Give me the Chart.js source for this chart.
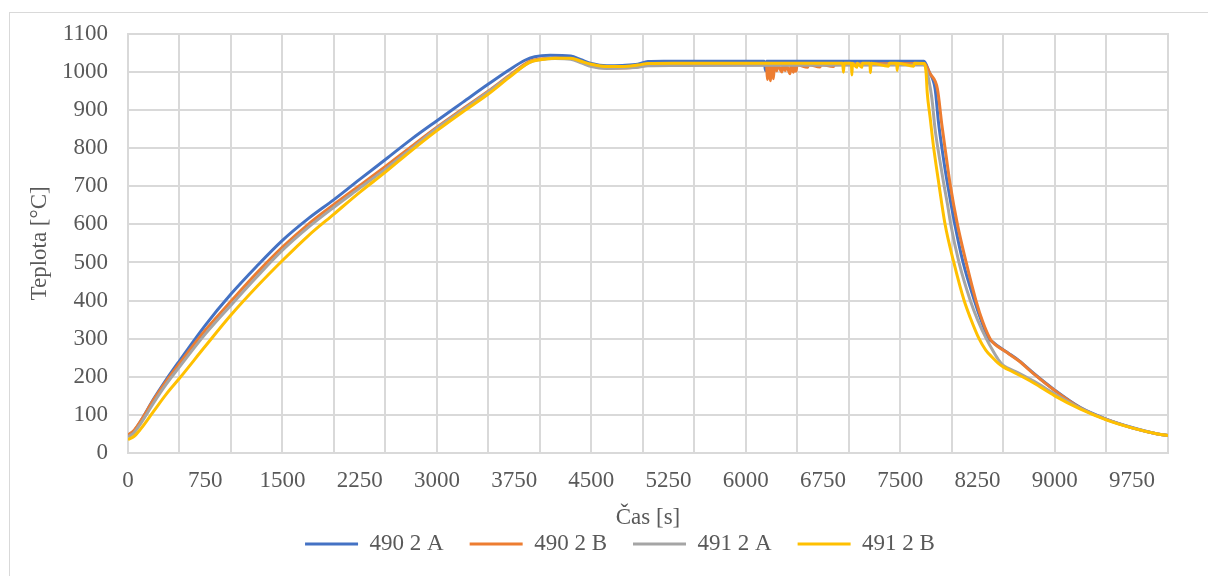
<!DOCTYPE html>
<html>
<head>
<meta charset="utf-8">
<script src="https://cdn.jsdelivr.net/npm/chart.js@4.4.1/dist/chart.umd.min.js"></script>
<style>
  html, body { margin: 0; padding: 0; background: #ffffff; }
  canvas { display: block; }
</style>
</head>
<body>
<canvas id="c" width="1208" height="576" style="width:1208px;height:576px"></canvas>
<script>
// ---------------- data ----------------
const seriesNames = ['490 2 A', '490 2 B', '491 2 A', '491 2 B'];
const seriesColors = ['#4472C4', '#ED7D31', '#A5A5A5', '#FFC000'];

// 490 2 A
const time490A = [0,60,120,250,370,500,750,1000,1250,1500,1750,2000,2250,2500,2750,3000,3250,3500,3700,3850,3950,4100,4300,4400,4500,4650,4800,4950,5050,5200,6180,6190,6200,7730,7780,7838,7871,7910,7951,8030,8110,8220,8290,8360,8400,8450,8550,8650,8800,9000,9250,9500,9750,10000,10100];
const temp490A = [45,58,82,142,192,242,335,417,490,558,615,665,718,770,823,872,920,968,1005,1030,1040,1044,1042,1032,1022,1016,1017,1020,1027,1028,1028,1003,1028,1028,1000,956,868,790,718,600,500,400,345,300,291,280,262,243,208,165,119,89,67,50,46];

// 490 2 B
const time490B = [0,60,120,250,370,500,750,1000,1250,1500,1750,2000,2250,2500,2750,3000,3250,3500,3700,3900,4000,4150,4300,4400,4500,4650,4800,4950,5050,5300,6200,6210,6220,6238,6248,6268,6278,6300,6310,6350,6360,6383,6393,6430,6440,6463,6473,6488,6498,6600,6610,6720,6730,6850,6860,7730,7790,7861,7903,7945,7984,8055,8140,8235,8300,8372,8400,8450,8550,8650,8800,9000,9250,9500,9750,10000,10100];
const temp490B = [47,60,83,140,188,235,322,398,472,540,600,652,702,752,804,855,903,950,990,1028,1034,1036,1035,1026,1016,1010,1010,1013,1018,1019,1019,980,1019,977,1019,982,1019,1003,1019,1000,1019,1004,1019,995,1019,999,1019,1002,1019,1012,1019,1013,1019,1014,1019,1022,995,955,863,780,706,600,500,400,345,300,290,279,261,242,207,164,118,88,66,50,46];

// 491 2 A
const time491A = [0,60,120,250,370,500,750,1000,1250,1500,1750,2000,2250,2500,2750,3000,3250,3500,3700,3900,4000,4150,4300,4400,4500,4650,4800,4950,5050,5300,7725,7757,7806,7838,7880,7919,7960,7990,8070,8180,8250,8335,8400,8450,8500,8550,8650,8800,9000,9250,9500,9750,10000,10100];
const temp491A = [42,54,76,132,180,226,312,388,462,532,592,645,695,745,798,852,900,948,988,1025,1032,1035,1033,1024,1014,1009,1010,1012,1016,1017,1018,1002,932,850,775,712,650,600,500,400,350,300,268,246,230,222,210,188,155,117,88,66,50,46];

// 491 2 B
const time491B = [0,60,120,250,370,500,750,1000,1250,1500,1750,2000,2250,2500,2750,3000,3250,3500,3700,3900,4000,4150,4300,4400,4500,4650,4800,4950,5050,5300,6940,6948,6956,7025,7030,7036,7077,7083,7126,7132,7205,7210,7216,7385,7392,7465,7470,7476,7630,7636,7735,7750,7762,7790,7820,7870,7935,8020,8120,8180,8265,8330,8390,8450,8500,8600,8700,8800,9000,9250,9500,9750,10000,10100];
const temp491B = [35,44,62,110,154,196,280,362,436,505,570,627,684,737,793,846,895,942,985,1025,1032,1036,1036,1028,1020,1014,1014,1018,1022,1023,1023,999,1023,1023,992,1023,1012,1023,1012,1023,1023,998,1023,1015,1023,1023,1004,1023,1015,1023,1022,1000,945,880,810,715,600,500,400,355,300,270,252,236,226,212,198,183,150,115,87,66,50,46];

const seriesTimes = [time490A, time490B, time491A, time491B];
const seriesTemps = [temp490A, temp490B, temp491A, temp491B];

// axes
const xMin = 0, xMax = 10100, xStep = 250, xGridEvery = 500, xLabelEvery = 750;
const yMin = 0, yMax = 1100, yStep = 100;
const xTitle = 'Čas [s]';
const yTitle = 'Teplota [°C]';

// ---------------- chart ----------------
const FONT = "'Liberation Serif', 'Times New Roman', Times, serif";
const TXT = '#595959';
const GRID = '#d9d9d9';

const frame = {
  id: 'frame',
  beforeDraw(chart) {
    const {ctx, width, height} = chart;
    ctx.save();
    ctx.fillStyle = '#ffffff';
    ctx.fillRect(0, 0, width, height);
    ctx.strokeStyle = GRID;
    ctx.lineWidth = 1;
    ctx.strokeRect(9.5, 12.5, width, height);
    ctx.restore();
  }
};

const drawOrder = [3, 2, 1, 0]; // later series drawn on top, as in the original

const datasets = seriesNames.map((name, i) => ({
  label: name,
  data: seriesTimes[i].map((t, k) => ({x: t, y: seriesTemps[i][k]})),
  borderColor: seriesColors[i],
  backgroundColor: seriesColors[i],
  borderWidth: 3,
  pointRadius: 0,
  fill: false,
  cubicInterpolationMode: 'monotone',
  order: drawOrder[i]
}));

new Chart(document.getElementById('c'), {
  type: 'line',
  data: { datasets },
  plugins: [frame],
  options: {
    responsive: false,
    animation: false,
    devicePixelRatio: 1,
    layout: { padding: { left: 32, right: 0, top: 32, bottom: 10.5 } },
    plugins: {
      legend: {
        position: 'bottom',
        labels: {
          usePointStyle: true,
          pointStyle: 'line',
          pointStyleWidth: 53,
          padding: 26,
          color: TXT,
          font: { family: FONT, size: 23 },
          sort: (a, b) => a.datasetIndex - b.datasetIndex
        }
      },
      tooltip: { enabled: false }
    },
    scales: {
      x: {
        type: 'linear',
        min: xMin, max: xMax,
        afterFit: (s) => { s.height = 53.5; },
        ticks: {
          stepSize: xStep,
          autoSkip: false,
          maxRotation: 0,
          padding: 14,
          color: TXT,
          font: { family: FONT, size: 23 },
          callback: (v) => (v % xLabelEvery === 0 ? String(v) : '')
        },
        grid: {
          color: (c) => (c.tick && c.tick.value % xGridEvery === 0 ? GRID : 'rgba(0,0,0,0)'),
          lineWidth: 2,
          drawTicks: false
        },
        border: { color: GRID, width: 2 },
        title: {
          display: true, text: xTitle, color: TXT,
          font: { family: FONT, size: 23 },
          padding: { top: 0, bottom: -25.3 }
        }
      },
      y: {
        min: yMin, max: yMax,
        afterFit: (s) => { s.width = 96; },
        ticks: {
          stepSize: yStep,
          padding: 20,
          color: TXT,
          font: { family: FONT, size: 23 },
          callback: (v) => String(v)
        },
        grid: { color: GRID, lineWidth: 2, drawTicks: false },
        border: { color: GRID, width: 2 },
        title: {
          display: true, text: yTitle, color: TXT,
          font: { family: FONT, size: 23 },
          padding: { top: -6.3, bottom: 0 }
        }
      },
      y2: {
        position: 'right',
        min: yMin, max: yMax,
        afterFit: (s) => { s.width = 40; },
        ticks: { display: false },
        grid: { drawOnChartArea: false, drawTicks: false },
        border: { color: GRID, width: 2 }
      }
    }
  }
});
</script>
</body>
</html>
